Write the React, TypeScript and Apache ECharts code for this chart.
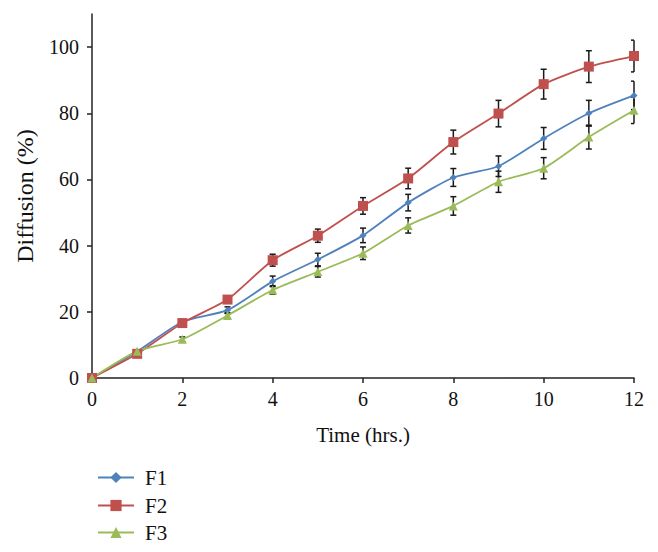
import React, { useEffect, useRef } from "react";
import * as echarts from "echarts";

const hours = [0, 1, 2, 3, 4, 5, 6, 7, 8, 9, 10, 11, 12];
const f1Values = [0, 8.0, 17.0, 20.5, 29.2, 35.8, 43.1, 53.0, 60.6, 64.0, 72.4, 80.0, 85.4];
const f1Errors = [0, 0.3, 0.5, 1.0, 1.6, 1.9, 2.2, 2.5, 2.7, 3.1, 3.3, 3.9, 4.3];
const f2Values = [0, 7.3, 16.6, 23.7, 35.6, 43.0, 52.0, 60.3, 71.3, 79.9, 88.8, 94.1, 97.3];
const f2Errors = [0, 0.3, 0.6, 1.0, 1.8, 2.0, 2.5, 3.1, 3.6, 4.0, 4.5, 4.8, 4.8];
const f3Values = [0, 8.1, 11.7, 18.9, 26.6, 32.1, 37.7, 46.1, 52.0, 59.3, 63.4, 72.8, 80.9];
const f3Errors = [0, 0.3, 0.7, 0.8, 1.3, 1.6, 1.9, 2.3, 2.8, 3.2, 3.2, 3.6, 4.0];
const yTicks = [0, 20, 40, 60, 80, 100];

const seriesNames = ["F1", "F2", "F3"];
const colors = ["#4F81BD", "#C0504D", "#9BBB59"];
const FONT = "Liberation Serif";
const X_MAX = 12;

function errorSeries(values: number[], errors: number[]) {
  return {
    type: "custom",
    silent: true,
    z: 1,
    data: hours.map((h, i) => [h, values[i] - errors[i], values[i] + errors[i]]),
    renderItem: (_params: any, api: any) => {
      const x = api.value(0);
      const lo = api.coord([x, api.value(1)]);
      const hi = api.coord([x, api.value(2)]);
      const hwL = 3;
      const hwR = x >= X_MAX ? 0 : 3;
      const style = { stroke: "#1a1a1a", lineWidth: 1.5 };
      return {
        type: "group",
        children: [
          { type: "line", shape: { x1: lo[0], y1: lo[1], x2: hi[0], y2: hi[1] }, style },
          { type: "line", shape: { x1: lo[0] - hwL, y1: lo[1], x2: lo[0] + hwR, y2: lo[1] }, style },
          { type: "line", shape: { x1: hi[0] - hwL, y1: hi[1], x2: hi[0] + hwR, y2: hi[1] }, style },
        ],
      };
    },
  };
}

export default function App() {
  const ref = useRef<HTMLDivElement>(null);
  useEffect(() => {
    if (!ref.current) return;
    const chart = echarts.init(ref.current, undefined, { renderer: "svg" });
    const lineSeries = [
      { values: f1Values, symbol: "diamond", size: 7 },
      { values: f2Values, symbol: "rect", size: 10 },
      { values: f3Values, symbol: "triangle", size: 9 },
    ].map((s, i) => ({
      name: seriesNames[i],
      type: "line",
      z: 3,
      smooth: 0.2,
      symbol: s.symbol,
      symbolSize: s.size,
      showAllSymbol: true,
      data: hours.map((h, k) => [h, s.values[k]]),
      lineStyle: { color: colors[i], width: 1.8 },
      itemStyle: { color: colors[i] },
    }));
    const legendTops = [462, 490, 517];
    chart.setOption({
      animation: false,
      backgroundColor: "#ffffff",
      color: colors,
      textStyle: { fontFamily: FONT, color: "#111" },
      grid: { left: 92, right: 24, top: 14, bottom: 174 },
      legend: seriesNames.map((n, i) => ({
        data: [n],
        orient: "vertical",
        left: 92,
        top: legendTops[i],
        itemWidth: 36,
        itemHeight: 14,
        textStyle: { fontFamily: FONT, fontSize: 21, color: "#111", padding: [0, 0, 0, 6] },
      })),
      xAxis: {
        type: "value",
        min: 0,
        max: X_MAX,
        interval: 2,
        name: "Time (hrs.)",
        nameLocation: "middle",
        nameGap: 46,
        nameTextStyle: { fontFamily: FONT, fontSize: 21, color: "#111" },
        axisLine: { lineStyle: { color: "#222", width: 1.5 } },
        axisTick: { show: true, length: 5, lineStyle: { color: "#222", width: 1.5 } },
        axisLabel: { fontFamily: FONT, fontSize: 20, color: "#111", margin: 11 },
        splitLine: { show: false },
      },
      yAxis: {
        type: "value",
        min: 0,
        max: 110,
        interval: 20,
        name: "Diffusion (%)",
        nameLocation: "middle",
        nameGap: 55,
        nameRotate: 90,
        nameTextStyle: { fontFamily: FONT, fontSize: 24, color: "#111" },
        axisLine: { show: true, lineStyle: { color: "#222", width: 1.5 } },
        axisTick: { show: true, length: 5, customValues: yTicks, lineStyle: { color: "#222", width: 1.5 } },
        axisLabel: { fontFamily: FONT, fontSize: 20, color: "#111", margin: 13, customValues: yTicks },
        splitLine: { show: false },
      },
      series: [
        errorSeries(f1Values, f1Errors),
        errorSeries(f2Values, f2Errors),
        errorSeries(f3Values, f3Errors),
        ...lineSeries,
      ],
    });
    return () => chart.dispose();
  }, []);
  return (
    <div
      ref={ref}
      style={{ position: "fixed", left: 0, top: 0, width: 658, height: 552 }}
    />
  );
}
